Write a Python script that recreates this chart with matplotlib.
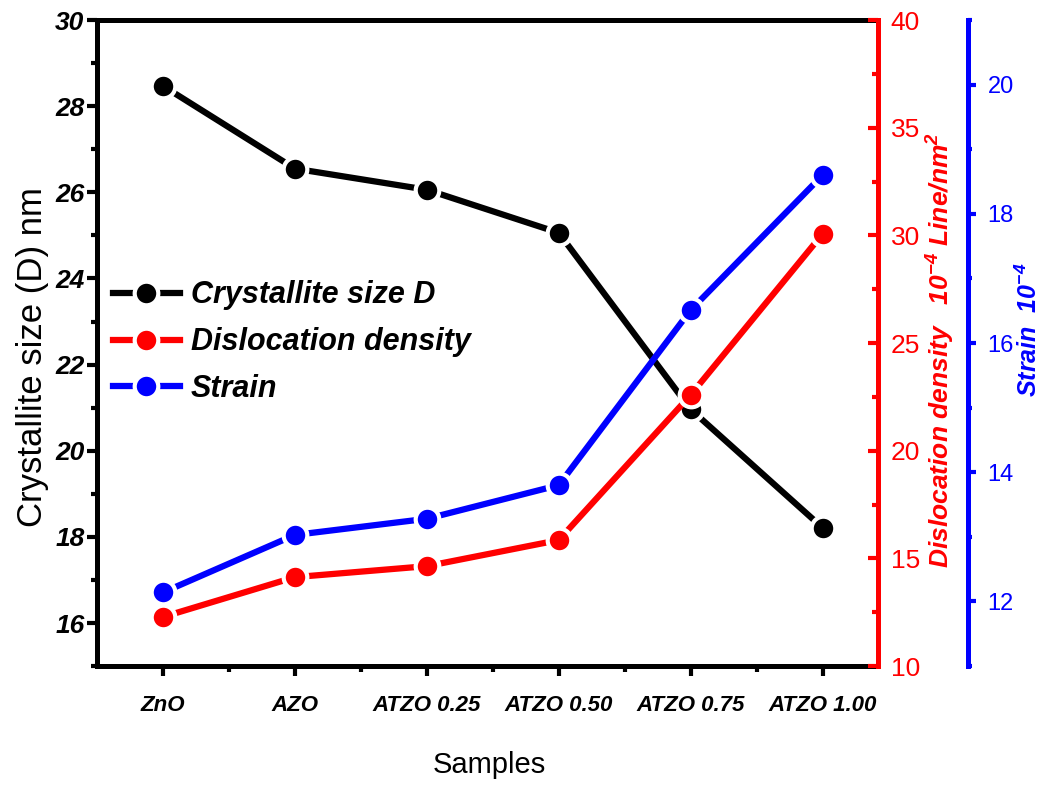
import matplotlib
matplotlib.use("Agg")
import matplotlib.pyplot as plt
from matplotlib.ticker import MultipleLocator

samples = ["ZnO", "AZO", "ATZO 0.25", "ATZO 0.50", "ATZO 0.75", "ATZO 1.00"]
crystallite = [28.47, 26.55, 26.06, 25.06, 20.96, 18.21]
dislocation = [12.28, 14.13, 14.64, 15.85, 22.59, 30.07]
strain = [12.14, 13.03, 13.28, 13.80, 16.51, 18.60]

BASE = "Liberation Sans"
plt.rcParams["font.family"] = [BASE, "DejaVu Sans"]
plt.rcParams["mathtext.fontset"] = "custom"
plt.rcParams["mathtext.rm"] = "Liberation Sans:bold:italic"
plt.rcParams["mathtext.it"] = "Liberation Sans:bold:italic"
plt.rcParams["mathtext.bf"] = "Liberation Sans:bold:italic"

RED = "#ff0000"
BLUE = "#0000ff"

fig = plt.figure(figsize=(10.46, 7.92), dpi=100)
ax = fig.add_axes([0.0927, 0.159, 0.7467, 0.8157])
ax2 = ax.twinx()
ax3 = ax.twinx()

x = list(range(len(samples)))
style = dict(lw=4.5, marker="o", ms=17, mew=3, mec="white", clip_on=False)
l1, = ax.plot(x, crystallite, color="black", label="Crystallite size D", **style)
l2, = ax2.plot(x, dislocation, color=RED, label="Dislocation density", **style)
l3, = ax3.plot(x, strain, color=BLUE, label="Strain", **style)

ax.set_xlim(-0.5, 5.42)
ax.set_ylim(15, 30)
ax2.set_ylim(10, 40)
ax3.set_ylim(11, 21)

for s in ax.spines.values():
    s.set_linewidth(3.6)
ax2.spines["right"].set_color(RED)
ax2.spines["right"].set_linewidth(3.6)
ax3.spines["right"].set_position(("axes", 1.1152))
ax3.spines["right"].set_color(BLUE)
ax3.spines["right"].set_linewidth(3.6)
for a in (ax2, ax3):
    for k in ("left", "top", "bottom"):
        a.spines[k].set_visible(False)

# left axis
ax.yaxis.set_major_locator(MultipleLocator(2))
ax.yaxis.set_minor_locator(MultipleLocator(1))
ax.tick_params(axis="y", which="major", direction="out", length=7, width=3, pad=2)
ax.tick_params(axis="y", which="minor", direction="out", length=4, width=3)
for t in ax.get_yticklabels():
    t.set_fontsize(19)
    t.set_fontweight("bold")
    t.set_fontstyle("italic")

# bottom axis
ax.set_xticks(x)
ax.set_xticks([i + 0.5 for i in x[:-1]], minor=True)
ax.set_xticklabels(samples, fontsize=16, fontweight="bold", fontstyle="italic")
ax.tick_params(axis="x", which="major", direction="out", length=7, width=3, pad=14)
ax.tick_params(axis="x", which="minor", direction="out", length=4, width=3)

# red axis
ax2.yaxis.set_major_locator(MultipleLocator(5))
ax2.yaxis.set_minor_locator(MultipleLocator(2.5))
ax2.tick_params(axis="y", which="major", direction="in", length=7, width=3,
                colors=RED, labelsize=19, pad=9)
ax2.tick_params(axis="y", which="minor", direction="in", length=4, width=3, colors=RED)

# blue axis
ax3.yaxis.set_major_locator(MultipleLocator(2))
ax3.yaxis.set_minor_locator(MultipleLocator(1))
ax3.tick_params(axis="y", which="major", direction="out", length=6, width=3,
                colors=BLUE, labelsize=17, pad=8)
ax3.tick_params(axis="y", which="minor", direction="out", length=3, width=3, colors=BLUE)

# axis titles
fig.text(33 / 1046, 1 - 357 / 792, "Crystallite size (D) nm", rotation=90,
         ha="center", va="center", fontsize=25)
fig.text(489 / 1046, 1 - 765 / 792, "Samples", ha="center", va="center",
         fontsize=21)
fig.text(941 / 1046, 1 - 350 / 792,
         "Dislocation density   10$^{-4}$ Line/nm$^{2}$", rotation=90,
         ha="center", va="center", fontsize=19, color=RED,
         fontweight="bold", fontstyle="italic")
fig.text(1029 / 1046, 1 - 330 / 792, "Strain  10$^{-4}$", rotation=90,
         ha="center", va="center", fontsize=18, color=BLUE,
         fontweight="bold", fontstyle="italic")

leg = ax3.legend(handles=[l1, l2, l3], loc="upper left",
                 bbox_to_anchor=(0.02, 0.597), frameon=False, borderpad=0,
                 borderaxespad=0, handlelength=2.2, handletextpad=0.35,
                 labelspacing=0.55,
                 prop=dict(size=22, weight="bold", style="italic"))

fig.savefig("out.png", dpi=100)
